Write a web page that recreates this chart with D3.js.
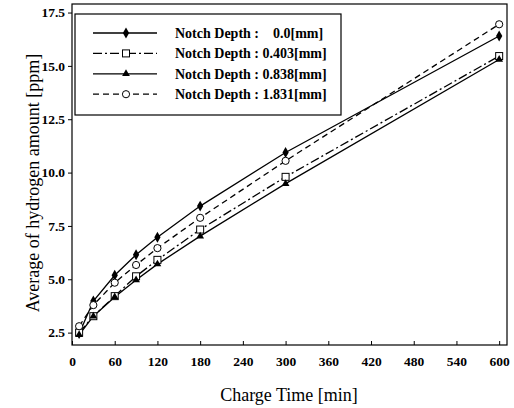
<!DOCTYPE html>
<html>
<head>
<meta charset="utf-8">
<script src="https://cdn.jsdelivr.net/npm/d3@7"></script>
<style>
  body { margin: 0; background: #fff; }
  svg { display: block; font-family: 'Liberation Serif', 'Times New Roman', Times, serif; }
  .tick text { font-family: 'Liberation Serif', 'Times New Roman', Times, serif; font-weight: bold; font-size: 13.5px; }
</style>
</head>
<body>
<div id="chart"></div>
<script>
// charge time [min]
const times = [10, 30, 60, 90, 120, 180, 300, 600];
// average hydrogen amount [ppm] per notch depth
const depth00 = [2.45, 3.98, 5.19, 6.15, 6.97, 8.43, 10.94, 16.4];
const depth0403 = [2.5, 3.27, 4.21, 5.14, 5.91, 7.33, 9.8, 15.46];
const depth0838 = [2.4, 3.27, 4.17, 4.97, 5.71, 7.02, 9.48, 15.3];
const depth1831 = [2.8, 3.79, 4.84, 5.67, 6.46, 7.88, 10.55, 16.95];
const legendLabels = [
  'Notch Depth :    0.0[mm]',
  'Notch Depth : 0.403[mm]',
  'Notch Depth : 0.838[mm]',
  'Notch Depth : 1.831[mm]'
];
const xTicks = [0, 60, 120, 180, 240, 300, 360, 420, 480, 540, 600];
const yTicks = [2.5, 5.0, 7.5, 10.0, 12.5, 15.0, 17.5];

const serif = "'Liberation Serif', 'Times New Roman', Times, serif";
const width = 514, height = 408;
const margin = { left: 72, right: 7, top: 4, bottom: 63 };

const svg = d3.select('#chart').append('svg')
    .attr('width', width)
    .attr('height', height);

const x = d3.scaleLinear().domain([0, 611]).range([margin.left, width - margin.right]);
const y = d3.scaleLinear().domain([1.92, 17.9]).range([height - margin.bottom, margin.top]);

const series = [
  { values: depth00, dash: null, marker: 'diamond' },
  { values: depth0403, dash: '9,3,2,3', marker: 'square' },
  { values: depth0838, dash: null, marker: 'triangle' },
  { values: depth1831, dash: '6,4', marker: 'circle' }
];

// frame
svg.append('rect')
    .attr('x', x.range()[0])
    .attr('y', y.range()[1])
    .attr('width', x.range()[1] - x.range()[0])
    .attr('height', y.range()[0] - y.range()[1])
    .attr('fill', 'none')
    .attr('stroke', '#000')
    .attr('stroke-width', 1.2);

// axes
const xAxis = svg.append('g')
    .attr('transform', `translate(0,${y.range()[0]})`)
    .call(d3.axisBottom(x).tickValues(xTicks).tickSize(-4).tickPadding(11).tickFormat(d3.format('d')));
xAxis.select('.domain').remove();

const yAxis = svg.append('g')
    .attr('transform', `translate(${x.range()[0]},0)`)
    .call(d3.axisLeft(y).tickValues(yTicks).tickSize(4).tickPadding(3).tickFormat(d3.format('.1f')));
yAxis.select('.domain').remove();

svg.selectAll('.tick text')
    .attr('fill', '#000')
    .style('font-family', serif)
    .style('font-weight', 'bold')
    .style('font-size', '13.5px');

// axis titles
svg.append('text')
    .attr('x', 289)
    .attr('y', 401)
    .attr('text-anchor', 'middle')
    .style('font-family', serif)
    .style('font-size', '18px')
    .text('Charge Time [min]');

svg.append('text')
    .attr('transform', `translate(39,${183}) rotate(-90)`)
    .attr('text-anchor', 'middle')
    .style('font-family', serif)
    .style('font-size', '18px')
    .text('Average of hydrogen amount [ppm]');

const line = d3.line().x((d, i) => x(times[i])).y(d => y(d));

function drawMarker(g, type, cx, cy) {
  if (type === 'diamond') {
    g.append('path')
        .attr('d', d3.symbol().type(d3.symbolDiamond).size(34)())
        .attr('transform', `translate(${cx},${cy})`)
        .attr('fill', '#000');
  } else if (type === 'triangle') {
    g.append('path')
        .attr('d', d3.symbol().type(d3.symbolTriangle).size(26)())
        .attr('transform', `translate(${cx},${cy})`)
        .attr('fill', '#000');
  } else if (type === 'square') {
    g.append('rect')
        .attr('x', cx - 3.5).attr('y', cy - 3.5)
        .attr('width', 7).attr('height', 7)
        .attr('fill', '#fff').attr('stroke', '#000').attr('stroke-width', 1);
  } else {
    g.append('circle')
        .attr('cx', cx).attr('cy', cy).attr('r', 3.6)
        .attr('fill', '#fff').attr('stroke', '#000').attr('stroke-width', 1);
  }
}

const plot = svg.append('g');
series.forEach(s => {
  plot.append('path')
      .datum(s.values)
      .attr('d', line)
      .attr('fill', 'none')
      .attr('stroke', '#000')
      .attr('stroke-width', 1.3)
      .attr('stroke-dasharray', s.dash);
});
series.forEach(s => {
  const g = plot.append('g');
  s.values.forEach((v, i) => drawMarker(g, s.marker, x(times[i]), y(v)));
});

// legend
const legend = svg.append('g');
legend.append('rect')
    .attr('x', 75).attr('y', 14)
    .attr('width', 266).attr('height', 101)
    .attr('fill', '#fff')
    .attr('stroke', '#000')
    .attr('stroke-width', 1.2);

series.forEach((s, i) => {
  const ly = 33 + i * 20.4;
  legend.append('line')
      .attr('x1', 93).attr('x2', 157)
      .attr('y1', ly).attr('y2', ly)
      .attr('stroke', '#000')
      .attr('stroke-width', 1.3)
      .attr('stroke-dasharray', s.dash);
  drawMarker(legend, s.marker, 126, ly);
  legend.append('text')
      .attr('x', 175)
      .attr('y', ly + 5)
      .style('font-family', serif)
      .style('font-weight', 'bold')
      .style('font-size', '14px')
      .style('white-space', 'pre')
      .text(legendLabels[i]);
});
</script>
</body>
</html>
